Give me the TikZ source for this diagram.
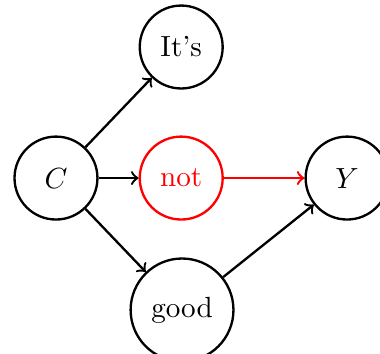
\documentclass[tikz,border=0pt]{standalone}
\begin{document}
\begin{tikzpicture}[x=1cm,
    var/.style={draw,thick,circle,minimum size=1cm,inner sep=4.6pt}]
\useasboundingbox (-0.675,-2.11) rectangle (3.907,2.147);
\node[var] (c) at (0,0) {\(C\)};
\node[var] (its) at (1.51,1.58) {It's};
\node[var,red] (not) at (1.51,0) {not};
\node[var] (good) at (1.52,-1.59) {good};
\node[var] (y) at (3.51,0) {\(Y\)};
\draw[->,thick] (c)--(its);
\draw[->,thick] (c)--(not);
\draw[->,thick] (c)--(good);
\draw[->,thick,red] (not)--(y);
\draw[->,thick] (good)--(y);
\end{tikzpicture}
\end{document}
